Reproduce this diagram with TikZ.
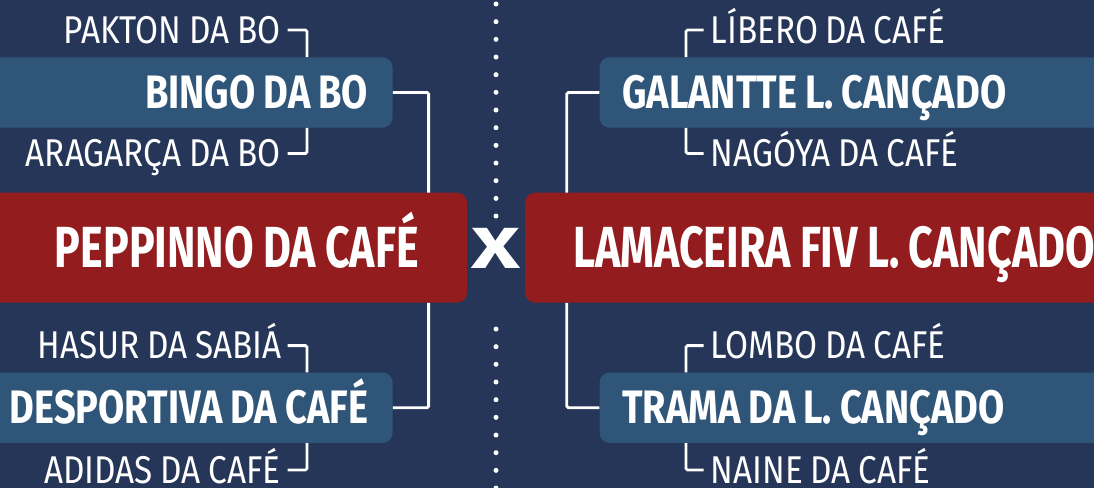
\documentclass[tikz,border=0pt]{standalone}
\usepackage{fontspec}
\setmainfont{Fira Sans}
\newfontfamily\bigfont{Fira Sans}[FakeStretch=0.74]
\newfontfamily\midfont{Fira Sans}[FakeStretch=0.81]
\newfontfamily\smallfont{Fira Sans}[FakeStretch=0.86]
\newfontfamily\vsfont{Fira Sans}[FakeStretch=1.45]
\usetikzlibrary{calc}

\definecolor{navy}{HTML}{253659}
\definecolor{boxblue}{HTML}{2F5679}
\definecolor{boxred}{HTML}{931C1E}

\tikzset{
    smallname/.style={inner sep=0pt, text=white, font={\smallfont\fontsize{38.7}{40}\selectfont\spaceskip=0.2em\relax}, text height=26.7pt, text depth=0pt},
    midbox/.style={fill=boxblue, rounded corners=10pt, minimum height=70.4pt, inner ysep=0pt, text=white, font={\midfont\bfseries\fontsize{46.9}{48}\selectfont\spaceskip=0.17em\relax}, text height=32.3pt, text depth=0pt},
    bigbox/.style={fill=boxred, rounded corners=10pt, minimum height=110pt, inner ysep=0pt, text=white, font={\bigfont\bfseries\fontsize{58}{60}\selectfont\spaceskip=0.16em\relax}, text height=40pt, text depth=0pt},
    link/.style={draw=white, line width=2.8pt, rounded corners=1.5pt},
}

\begin{document}
\begin{tikzpicture}[x=1pt,y=-1pt]
    \useasboundingbox[fill=navy] (0,0) rectangle (1094,488);

    % dotted middle line
    \draw[white, line width=5pt, line cap=round, dash pattern=on 0pt off 17.67pt] (496,4) -- (496,220);
    \draw[white, line width=5pt, line cap=round, dash pattern=on 0pt off 17.67pt] (496,329) -- (496,495);

    % left side
    \node[bigbox, anchor=east, inner xsep=48.2pt] (peppinno) at (467.2,247.7) {\makebox[390.8pt][r]{PEPPINNO DA CAFÉ}};
    \node[midbox, anchor=east, inner xsep=24.5pt] (bingo) at (392.8,92.5) {\makebox[363.8pt][r]{BINGO DA BO}};
    \node[midbox, anchor=east, inner xsep=24.5pt] (desportiva) at (392.8,407.7) {\makebox[363.8pt][r]{DESPORTIVA DA CAFÉ}};

    \node[smallname, anchor=east] (pakton) at (280.6,30) {PAKTON DA BO};
    \node[smallname, anchor=east] (aragarca) at (280.6,153.4) {ARAGARÇA DA BO};
    \node[smallname, anchor=east] (hasur) at (282,345.6) {HASUR DA SABIÁ};
    \node[smallname, anchor=east] (adidas) at (280.6,470) {ADIDAS DA CAFÉ};

    \coordinate (lsmall) at (307,0);
    \coordinate (lbig) at (428.6,0);
    \draw[link] ([xshift=7pt]pakton.east) -| (bingo.north -| lsmall);
    \draw[link] ([xshift=7pt]aragarca.east) -| (bingo.south -| lsmall);
    \draw[link] ([xshift=5.6pt]hasur.east) -| (desportiva.north -| lsmall);
    \draw[link] ([xshift=7pt]adidas.east) -| (desportiva.south -| lsmall);
    \draw[link] (bingo.east) -| (peppinno.north -| lbig);
    \draw[link] (desportiva.east) -| (peppinno.south -| lbig);

    \node[text=white, inner sep=0pt, font=\vsfont\bfseries\fontsize{58}{60}\selectfont, text height=40pt, text depth=0pt] (versus) at (496,248) {X};

    % right side
    \node[bigbox, anchor=west, inner xsep=48pt] (lamaceira) at (525,247.7) {\makebox[600pt][l]{LAMACEIRA FIV L. CANÇADO}};
    \node[midbox, anchor=west, inner xsep=22.5pt] (galantte) at (599.4,92.5) {\makebox[560pt][l]{GALANTTE L. CANÇADO}};
    \node[midbox, anchor=west, inner xsep=22.5pt] (trama) at (599.4,407.7) {\makebox[560pt][l]{TRAMA DA L. CANÇADO}};

    \node[smallname, anchor=west] (libero) at (710.6,30) {LÍBERO DA CAFÉ};
    \node[smallname, anchor=west] (nagoya) at (710.6,153.4) {NAGÓYA DA CAFÉ};
    \node[smallname, anchor=west] (lombo) at (710.6,345.6) {LOMBO DA CAFÉ};
    \node[smallname, anchor=west] (naine) at (710.6,470) {NAINE DA CAFÉ};

    \coordinate (rsmall) at (686,0);
    \coordinate (rbig) at (566.8,0);
    \draw[link] ([xshift=-7pt]libero.west) -| (galantte.north -| rsmall);
    \draw[link] ([xshift=-7pt]nagoya.west) -| (galantte.south -| rsmall);
    \draw[link] ([xshift=-7pt]lombo.west) -| (trama.north -| rsmall);
    \draw[link] ([xshift=-7pt]naine.west) -| (trama.south -| rsmall);
    \draw[link] (galantte.west) -| (lamaceira.north -| rbig);
    \draw[link] (trama.west) -| (lamaceira.south -| rbig);
\end{tikzpicture}
\end{document}
